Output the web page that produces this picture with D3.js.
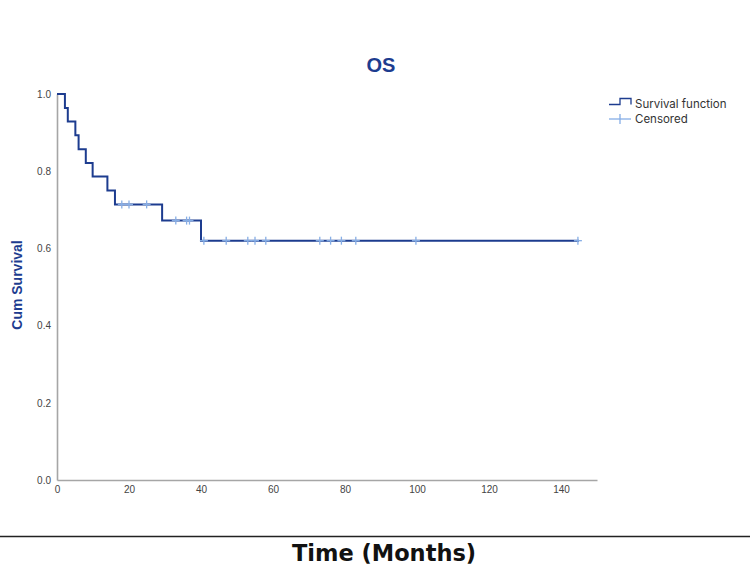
<!DOCTYPE html>
<html><head><meta charset="utf-8">
<script src="https://cdn.jsdelivr.net/npm/d3@7"></script>
<style>body{margin:0;background:#fff}svg{display:block}</style>
</head><body>
<svg id="c" width="750" height="576"></svg>
<script>
// step points of the survival function (time in months, cumulative survival)
const stepTimes = [0, 2.2, 3.0, 5.1, 6.0, 8.0, 9.9, 14.0, 16.1, 29.2, 40.0, 145];
const stepSurv  = [1.0, 0.964, 0.929, 0.893, 0.857, 0.821, 0.786, 0.750, 0.714, 0.672, 0.620, 0.620];
// censored observations
const censTimes = [18, 20, 24.9, 33, 36, 36.8, 40.8, 47, 53, 55, 58, 73, 76, 79, 83, 99.7, 144.7];
const censSurv  = [0.714, 0.714, 0.714, 0.672, 0.672, 0.672, 0.620, 0.620, 0.620, 0.620, 0.620, 0.620, 0.620, 0.620, 0.620, 0.620, 0.620];
const xTicks = [0, 20, 40, 60, 80, 100, 120, 140];
const yTicks = [0.0, 0.2, 0.4, 0.6, 0.8, 1.0];

const svg = d3.select("#c");
const x = d3.scaleLinear().domain([0, 150]).range([57, 597]);
const y = d3.scaleLinear().domain([0, 1]).range([480, 94]);
const navy = "#1d3c8f", light = "#86aee6", axisCol = "#a6a6a6";

// axes
const gx = svg.append("g").attr("transform", "translate(0,480)")
  .call(d3.axisBottom(x).tickValues(xTicks).tickSize(0).tickPadding(6).tickFormat(d3.format("d")));
const gy = svg.append("g").attr("transform", "translate(57,0)")
  .call(d3.axisLeft(y).tickValues(yTicks).tickSize(0).tickPadding(6).tickFormat(d3.format(".1f")));
[gx, gy].forEach(g => {
  g.select(".domain").attr("stroke", axisCol).attr("stroke-width", 1.6);
  g.selectAll("text").attr("fill", "#444").style("font-family", "Liberation Sans, Arial, sans-serif").style("font-size", "10px");
});

// survival step line
const pts = stepTimes.map((t, i) => [t, stepSurv[i]]);
const line = d3.line().x(d => x(d[0])).y(d => y(d[1])).curve(d3.curveStepAfter);
svg.append("path").datum(pts).attr("d", line).attr("fill", "none")
  .attr("stroke", navy).attr("stroke-width", 2);

// censored marks
const cg = svg.append("g");
censTimes.forEach((t, i) => {
  const cx = x(t), cy = y(censSurv[i]);
  cg.append("line").attr("x1", cx).attr("x2", cx).attr("y1", cy - 4).attr("y2", cy + 4).attr("stroke", light).attr("stroke-width", 1.3);
  cg.append("line").attr("x1", cx - 4).attr("x2", cx + 4).attr("y1", cy).attr("y2", cy).attr("stroke", light).attr("stroke-width", 1.3);
});

// title
svg.append("text").attr("x", 381).attr("y", 72).attr("text-anchor", "middle")
  .style("font-family", "Liberation Sans, Arial, sans-serif").style("font-weight", "bold").style("font-size", "20px")
  .attr("fill", navy).text("OS");

// y label
svg.append("text").attr("transform", "translate(22,285) rotate(-90)").attr("text-anchor", "middle")
  .style("font-family", "Liberation Sans, Arial, sans-serif").style("font-weight", "bold").style("font-size", "14px")
  .attr("fill", navy).text("Cum Survival");

// legend
const lg = svg.append("g");
lg.append("path").attr("d", "M609,104.5 H620 V98.5 H631 V104.5").attr("fill", "none").attr("stroke", navy).attr("stroke-width", 1.3);
lg.append("line").attr("x1", 609).attr("x2", 631).attr("y1", 119).attr("y2", 119).attr("stroke", light).attr("stroke-width", 1.3);
lg.append("line").attr("x1", 620).attr("x2", 620).attr("y1", 114).attr("y2", 124).attr("stroke", light).attr("stroke-width", 1.3);
lg.append("text").attr("x", 635).attr("y", 108).style("font-family", "Inter, Noto Sans, sans-serif").style("font-size", "11.5px").attr("fill", "#333").text("Survival function");
lg.append("text").attr("x", 635).attr("y", 123).style("font-family", "Inter, Noto Sans, sans-serif").style("font-size", "11.5px").attr("fill", "#333").text("Censored");

// separator line and x label
svg.append("line").attr("x1", 0).attr("x2", 750).attr("y1", 536.5).attr("y2", 536.5).attr("stroke", "#222").attr("stroke-width", 1.3);
svg.append("text").attr("x", 384).attr("y", 561).attr("text-anchor", "middle")
  .style("font-family", "DejaVu Sans, sans-serif").style("font-weight", "bold").style("font-size", "22.5px")
  .attr("fill", "#111").text("Time (Months)");
</script>
</body></html>
